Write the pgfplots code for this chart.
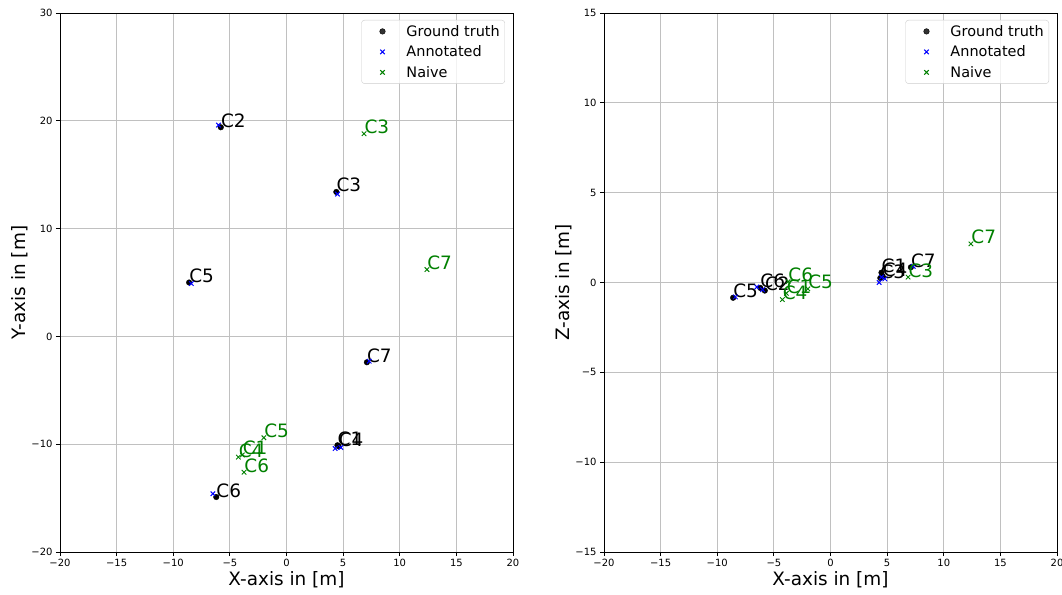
\documentclass[border=0pt]{standalone}
\usepackage{fontspec}
\setmainfont{DejaVu Sans}
\usepackage{pgfplots}
\usepackage{pgfplotstable}
\pgfplotsset{compat=1.18}

\definecolor{mplgreen}{HTML}{008000}
\definecolor{mplblue}{HTML}{0000FF}
\definecolor{gridgray}{HTML}{C0C0C0}

% camera positions: ground truth
\pgfplotstableread{
lbl x y z
C1 4.5 -10.1 0.55
C2 -5.8 19.4 -0.45
C3 4.4 13.4 0.25
C4 4.6 -10.2 0.35
C5 -8.6 5.0 -0.85
C6 -6.2 -14.9 -0.30
C7 7.1 -2.4 0.85
}\gt

% annotated estimate
\pgfplotstableread{
lbl x y z
C1 4.3 -10.4 0.00
C2 -6.0 19.6 -0.40
C3 4.5 13.2 0.30
C4 4.8 -10.3 0.20
C5 -8.4 4.9 -0.80
C6 -6.5 -14.6 -0.25
C7 7.3 -2.3 0.90
}\ann

% naive estimate
\pgfplotstableread{
lbl x y z
C1 -3.9 -11.0 -0.60
C3 6.85 18.8 0.30
C4 -4.25 -11.2 -0.95
C5 -2.0 -9.4 -0.35
C6 -3.75 -12.6 0.05
C7 12.4 6.2 2.15
}\naive

\pgfplotsset{
  camaxis/.style={
    scale only axis, width=453bp, height=539bp,
    xmin=-20, xmax=20,
    xtick={-20,-15,...,20},
    xticklabels={−20,−15,−10,−5,0,5,10,15,20},
    grid=major,
    major grid style={gridgray, line width=0.8bp},
    tick align=outside, tick pos=left, major tick length=4bp,
    every tick/.style={black, line width=0.8bp},
    axis line style={black, line width=0.8bp},
    tick label style={font=\fontsize{10}{12}\selectfont},
    label style={font=\fontsize{18.5}{22}\selectfont},
    xlabel style={at={([yshift=-28bp]axis description cs:0.5,0)}, anchor=center},
    ylabel style={at={([xshift=-40bp]axis description cs:0,0.5)}, anchor=center},
    legend cell align=left,
    legend style={at={([xshift=-8bp,yshift=-7bp]axis description cs:1,1)},
      anchor=north east, draw=gray!40, rounded corners=3bp,
      fill=white, fill opacity=0.8, text opacity=1,
      font=\fontsize{14.5}{16}\selectfont,
      nodes={inner sep=2bp}, row sep=4bp, inner sep=3bp},
    clip=false,
  },
  % legend entry: a single marker centred in a handle, then a gap
  markhandle/.style={legend image code/.code={%
      \path[draw=none] (0bp,0bp) -- (40bp,0bp);
      \draw[##1] plot[only marks] coordinates {(18bp,0bp)};}},
  gtplot/.style={only marks, mark=*, mark size=2.8bp, black, markhandle,
    nodes near coords, point meta=explicit symbolic,
    every node near coord/.append style={anchor=base west, inner sep=0pt,
      black, font=\fontsize{18.5}{20}\selectfont}},
  annplot/.style={only marks, mark=x, mark size=3.2bp, mplblue, markhandle,
    mark options={line width=1bp}},
  naiveplot/.style={only marks, mark=x, mark size=3.2bp, mplgreen, markhandle,
    mark options={line width=0.9bp},
    nodes near coords, point meta=explicit symbolic,
    every node near coord/.append style={anchor=base west, inner sep=0pt,
      mplgreen, font=\fontsize{18.5}{20}\selectfont}},
}

\begin{document}
\begin{tikzpicture}
\useasboundingbox (-60bp,-43bp) rectangle (1002bp,552bp);

% top view
\begin{axis}[camaxis, at={(0bp,0bp)}, anchor=south west,
  ymin=-20, ymax=30,
  ytick={-20,-10,...,30},
  yticklabels={−20,−10,0,10,20,30},
  xlabel={X-axis in [m]}, ylabel={Y-axis in [m]}]
  \addplot[gtplot] table[x=x, y=y, meta=lbl] {\gt};
  \addlegendentry{Ground truth}
  \addplot[annplot] table[x=x, y=y] {\ann};
  \addlegendentry{Annotated}
  \addplot[naiveplot] table[x=x, y=y, meta=lbl] {\naive};
  \addlegendentry{Naive}
\end{axis}

% side view
\begin{axis}[camaxis, at={(544bp,0bp)}, anchor=south west,
  ymin=-15, ymax=15,
  ytick={-15,-10,...,15},
  yticklabels={−15,−10,−5,0,5,10,15},
  xlabel={X-axis in [m]}, ylabel={Z-axis in [m]}]
  \addplot[gtplot] table[x=x, y=z, meta=lbl] {\gt};
  \addlegendentry{Ground truth}
  \addplot[annplot] table[x=x, y=z] {\ann};
  \addlegendentry{Annotated}
  \addplot[naiveplot] table[x=x, y=z, meta=lbl] {\naive};
  \addlegendentry{Naive}
\end{axis}
\end{tikzpicture}
\end{document}
